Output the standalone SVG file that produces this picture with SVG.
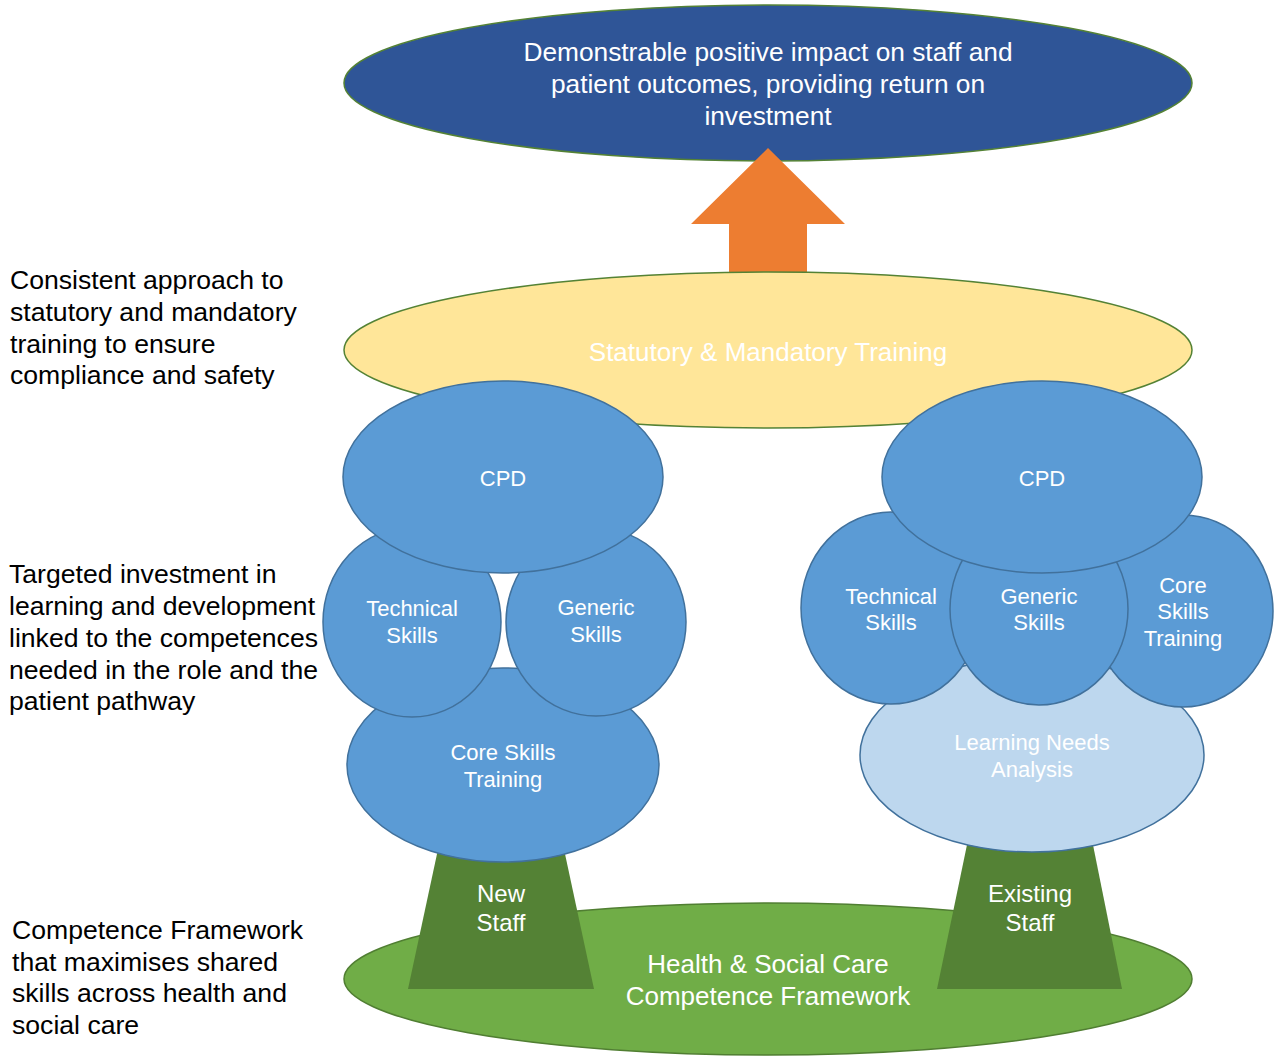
<svg xmlns="http://www.w3.org/2000/svg" width="1277" height="1057" viewBox="0 0 1277 1057">
  <style>
    text { font-family: "Liberation Sans", Arial, sans-serif; }
    .w { fill: #FFFFFF; text-anchor: middle; }
    .big { font-size: 26px; }
    .top { font-size: 26.3px; }
    .mid { font-size: 24px; }
    .sm { font-size: 22px; }
    .note { fill: #000000; font-size: 26.6px; }
    .blob { fill: #5B9BD5; stroke: #41719C; stroke-width: 1.5; }
    .pale { fill: #BDD7EE; stroke: #41719C; stroke-width: 1.5; }
    .trunk { fill: #548235; }
  </style>

  <rect width="1277" height="1057" fill="#FFFFFF"/>

  <!-- Side notes -->
  <g id="note-statutory">
    <text class="note" x="10" y="289">Consistent approach to</text>
    <text class="note" x="10" y="321">statutory and mandatory</text>
    <text class="note" x="10" y="353">training to ensure</text>
    <text class="note" x="10" y="384">compliance and safety</text>
  </g>
  <g id="note-investment">
    <text class="note" x="9" y="583">Targeted investment in</text>
    <text class="note" x="9" y="615">learning and development</text>
    <text class="note" x="9" y="647">linked to the competences</text>
    <text class="note" x="9" y="679">needed in the role and the</text>
    <text class="note" x="9" y="710">patient pathway</text>
  </g>
  <g id="note-framework">
    <text class="note" x="12" y="939">Competence Framework</text>
    <text class="note" x="12" y="971">that maximises shared</text>
    <text class="note" x="12" y="1002">skills across health and</text>
    <text class="note" x="12" y="1034">social care</text>
  </g>

  <!-- Ground: competence framework -->
  <g id="framework">
    <ellipse cx="768" cy="979" rx="424" ry="76" fill="#70AD47" stroke="#507E32" stroke-width="1.5"/>
    <text class="w big" x="768" y="973">Health &amp; Social Care</text>
    <text class="w big" x="768" y="1005">Competence Framework</text>
  </g>

  <!-- Trunks -->
  <g id="new-staff">
    <polygon class="trunk" points="440,840 562,840 594,989 408,989"/>
    <text class="w mid" x="501" y="902">New</text>
    <text class="w mid" x="501" y="931">Staff</text>
  </g>
  <g id="existing-staff">
    <polygon class="trunk" points="968,840 1092,840 1122,989 937,989"/>
    <text class="w mid" x="1030" y="902">Existing</text>
    <text class="w mid" x="1030" y="931">Staff</text>
  </g>

  <!-- Outcome -->
  <g id="outcome">
    <ellipse cx="768" cy="83" rx="424" ry="78" fill="#2F5597" stroke="#548235" stroke-width="1.5"/>
    <text class="w top" x="768" y="61">Demonstrable positive impact on staff and</text>
    <text class="w top" x="768" y="93">patient outcomes, providing return on</text>
    <text class="w top" x="768" y="125">investment</text>
  </g>

  <!-- Connectors -->
  <g id="connectors">
    <polygon id="arrow-up" points="768,148 845,224 807,224 807,274 729,274 729,224 691,224" fill="#ED7D31"/>
  </g>

  <!-- Statutory & mandatory layer -->
  <g id="statutory">
    <ellipse cx="768" cy="350" rx="424" ry="78" fill="#FFE699" stroke="#548235" stroke-width="1.5"/>
    <text class="w big" x="768" y="361">Statutory &amp; Mandatory Training</text>
  </g>

  <!-- New staff tree -->
  <g id="new-core">
    <ellipse class="blob" cx="503" cy="765" rx="156" ry="97"/>
    <text class="w sm" x="503" y="760">Core Skills</text>
    <text class="w sm" x="503" y="787">Training</text>
  </g>
  <g id="new-technical">
    <ellipse class="blob" cx="412" cy="622" rx="89" ry="95"/>
    <text class="w sm" x="412" y="616">Technical</text>
    <text class="w sm" x="412" y="643">Skills</text>
  </g>
  <g id="new-generic">
    <ellipse class="blob" cx="596" cy="622" rx="90" ry="94"/>
    <text class="w sm" x="596" y="615">Generic</text>
    <text class="w sm" x="596" y="642">Skills</text>
  </g>
  <g id="new-cpd">
    <ellipse class="blob" cx="503" cy="477" rx="160" ry="96"/>
    <text class="w sm" x="503" y="486">CPD</text>
  </g>

  <!-- Existing staff tree -->
  <g id="existing-lna">
    <ellipse class="pale" cx="1032" cy="755" rx="172" ry="97"/>
    <text class="w sm" x="1032" y="750">Learning Needs</text>
    <text class="w sm" x="1032" y="777">Analysis</text>
  </g>
  <g id="existing-technical">
    <ellipse class="blob" cx="891" cy="608" rx="90" ry="96"/>
    <text class="w sm" x="891" y="604">Technical</text>
    <text class="w sm" x="891" y="630">Skills</text>
  </g>
  <g id="existing-core">
    <ellipse class="blob" cx="1183" cy="611" rx="90" ry="96"/>
    <text class="w sm" x="1183" y="593">Core</text>
    <text class="w sm" x="1183" y="619">Skills</text>
    <text class="w sm" x="1183" y="646">Training</text>
  </g>
  <g id="existing-generic">
    <ellipse class="blob" cx="1039" cy="609" rx="89" ry="96"/>
    <text class="w sm" x="1039" y="604">Generic</text>
    <text class="w sm" x="1039" y="630">Skills</text>
  </g>
  <g id="existing-cpd">
    <ellipse class="blob" cx="1042" cy="477" rx="160" ry="96"/>
    <text class="w sm" x="1042" y="486">CPD</text>
  </g>
</svg>
